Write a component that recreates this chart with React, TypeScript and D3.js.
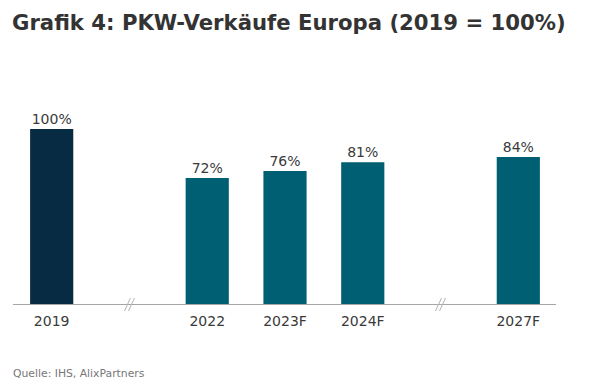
import React, { useEffect, useRef } from "react";
import * as d3 from "d3";

// categories incl. axis-break slots
const categories = ["2019", "brk1", "2022", "2023F", "2024F", "brk2", "2027F"];
const barCats = ["2019", "2022", "2023F", "2024F", "2027F"];
const values = [100, 72, 76, 81, 84];
const labels = ["100%", "72%", "76%", "81%", "84%"];
const breaks = ["brk1", "brk2"];

const W = 600;
const H = 384;

const App = () => {
  const ref = useRef<SVGSVGElement>(null);

  useEffect(() => {
    const svg = d3.select(ref.current);
    svg.selectAll("*").remove();

    const font = "Verdana, 'DejaVu Sans', sans-serif";
    const baseY = 304;
    const x = d3.scaleBand().domain(categories).range([13, 557]).paddingInner(0.445).paddingOuter(0.22);
    const y = d3.scaleLinear().domain([0, 100]).range([baseY, 129]);

    svg.append("text")
      .attr("x", 12).attr("y", 30)
      .attr("font-family", font).attr("font-weight", "bold")
      .attr("font-size", 21.2).attr("fill", "#333")
      .text("Grafik 4: PKW-Verkäufe Europa (2019 = 100%)");

    const data = barCats.map((c, i) => ({ c, v: values[i], l: labels[i] }));

    svg.selectAll(".bar").data(data).enter().append("rect")
      .attr("x", (d) => x(d.c)!)
      .attr("width", x.bandwidth())
      .attr("y", (d) => y(d.v))
      .attr("height", (d) => baseY - y(d.v))
      .attr("fill", (d) => (d.c === "2019" ? "#062b42" : "#005f73"));

    svg.selectAll(".lbl").data(data).enter().append("text")
      .attr("x", (d) => x(d.c)! + x.bandwidth() / 2)
      .attr("y", (d) => y(d.v) - 5)
      .attr("text-anchor", "middle")
      .attr("font-family", font).attr("font-size", 14).attr("fill", "#3a3a3a")
      .text((d) => d.l);

    svg.append("line")
      .attr("x1", 13).attr("x2", 556)
      .attr("y1", baseY + 0.5).attr("y2", baseY + 0.5)
      .attr("stroke", "#a6a6a6").attr("stroke-width", 1);

    svg.selectAll(".tick").data(barCats).enter().append("text")
      .attr("x", (d) => x(d)! + x.bandwidth() / 2)
      .attr("y", baseY + 22)
      .attr("text-anchor", "middle")
      .attr("font-family", font).attr("font-size", 14).attr("fill", "#3a3a3a")
      .text((d) => d);

    breaks.forEach((b) => {
      const cx = x(b)! + x.bandwidth() / 2;
      [-2, 2].forEach((dx) => {
        svg.append("line")
          .attr("x1", cx + dx - 3).attr("x2", cx + dx + 3)
          .attr("y1", baseY + 7).attr("y2", baseY - 6)
          .attr("stroke", "#b3b3b3").attr("stroke-width", 1);
      });
    });

    svg.append("text")
      .attr("x", 13).attr("y", 377)
      .attr("font-family", font).attr("font-size", 10.8).attr("fill", "#777")
      .text("Quelle: IHS, AlixPartners");
  }, []);

  return (
    <svg ref={ref} width={W} height={H} style={{ position: "absolute", left: 0, top: 0, background: "#fff" }} />
  );
};

export default App;
